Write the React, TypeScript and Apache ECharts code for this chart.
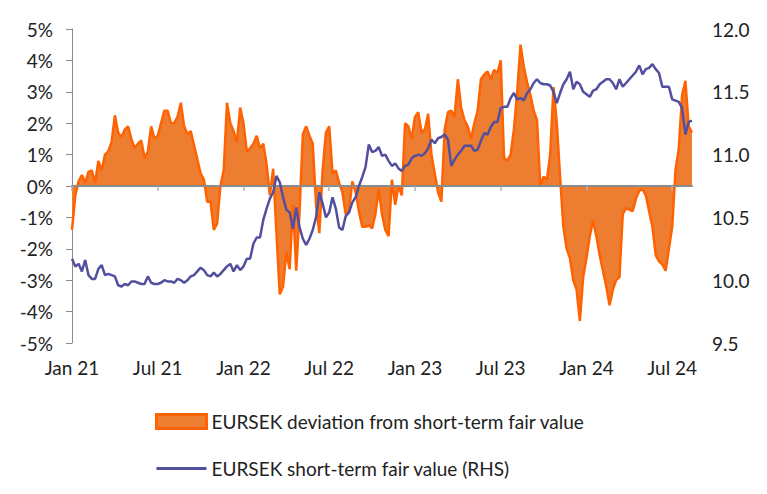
import * as echarts from "echarts";
import { useEffect, useRef } from "react";

const deviationName = "EURSEK deviation from short-term fair value";
const fairValueName = "EURSEK short-term fair value (RHS)";

const tickLabels = ["Jan 21", "Jul 21", "Jan 22", "Jul 22", "Jan 23", "Jul 23", "Jan 24", "Jul 24"];

// weekly, from the first week of 2021
const deviation = [
	-1.4, -0.3, 0.15, 0.35, 0.1, 0.45, 0.5, 0.1, 0.8, 0.5,
	1.0, 1.1, 1.4, 2.25, 1.7, 1.55, 1.8, 1.9, 1.5, 1.2,
	1.35, 1.45, 0.9, 1.1, 1.9, 1.5, 1.6, 2.0, 2.4, 2.4,
	2.0, 2.0, 2.2, 2.65, 1.9, 1.65, 1.75, 1.3, 0.85, 0.4,
	0.2, -0.5, -0.5, -1.4, -1.2, 0.0, 0.5, 2.65, 2.0, 1.75,
	1.4, 2.5, 2.0, 1.1, 1.2, 1.35, 1.6, 1.2, 1.35, 0.7,
	-0.3, 0.55, -1.5, -3.45, -3.2, -2.1, -2.65, -0.6, -2.7, -0.8,
	1.65, 1.9, 1.6, 1.35, -0.6, -1.5, 0.5, 1.7, 1.9, 0.4,
	0.5, 0.1, -0.2, -0.9, -0.8, 0.15, -0.2, -0.8, -1.3, -1.3,
	-1.25, -1.35, -0.9, -0.1, -0.9, -1.4, -1.6, 0.2, -0.6, 0.0,
	-0.3, 2.0, 1.9, 1.5, 2.2, 2.35, 1.7, 1.8, 2.3, 1.0,
	0.4, -0.2, -0.5, 1.8, 2.35, 2.4, 2.2, 3.4, 2.5, 2.1,
	1.9, 1.5, 2.0, 2.4, 3.4, 3.55, 3.65, 3.4, 3.7, 3.6,
	4.0, 0.9, 0.8, 1.0, 1.8, 3.0, 4.5, 3.8, 3.3, 2.9,
	2.4, 2.1, 0.0, 0.3, 0.2, 1.0, 3.15, 2.0, 0.3, -1.3,
	-2.0, -2.3, -3.0, -3.3, -4.3, -2.9, -2.3, -1.6, -1.1, -1.6,
	-2.2, -2.7, -3.2, -3.8, -3.3, -3.0, -2.9, -0.9, -0.7, -0.75,
	-0.8, -0.4, -0.15, -0.1, -0.3, -0.8, -1.3, -2.2, -2.4, -2.5,
	-2.7, -2.0, -1.3, 0.5, 1.2, 2.9, 3.35, 1.9, 1.7,
];

const fairValue = [
	10.17, 10.11, 10.13, 10.07, 10.16, 10.04, 10.01, 10.01, 10.09, 10.12,
	10.04, 10.05, 10.04, 10.03, 9.96, 9.95, 9.97, 9.96, 9.99, 9.99,
	9.98, 9.97, 9.97, 10.03, 9.98, 9.97, 9.97, 9.98, 10.0, 9.99,
	9.99, 9.98, 10.01, 10.0, 9.98, 10.0, 10.03, 10.04, 10.07, 10.1,
	10.08, 10.04, 10.03, 10.06, 10.03, 10.05, 10.08, 10.11, 10.13, 10.07,
	10.12, 10.08, 10.11, 10.17, 10.17, 10.29, 10.34, 10.34, 10.48, 10.57,
	10.65, 10.7, 10.83, 10.78, 10.66, 10.56, 10.54, 10.41, 10.58, 10.42,
	10.33, 10.28, 10.33, 10.4, 10.5, 10.7, 10.61, 10.5, 10.54, 10.66,
	10.57, 10.42, 10.4, 10.51, 10.54, 10.62, 10.66, 10.75, 10.82, 10.9,
	11.08, 11.02, 11.03, 11.06, 10.99, 11.0, 10.95, 10.91, 10.93, 10.89,
	10.87, 10.91, 10.92, 10.97, 10.99, 11.0, 10.99, 11.01, 11.05, 11.12,
	11.09, 11.13, 11.14, 11.16, 11.12, 10.91, 10.96, 11.0, 11.03, 11.07,
	11.07, 11.07, 11.03, 11.04, 11.11, 11.17, 11.16, 11.22, 11.26, 11.26,
	11.37, 11.38, 11.38, 11.45, 11.49, 11.44, 11.45, 11.43, 11.49, 11.52,
	11.57, 11.6, 11.57, 11.56, 11.56, 11.55, 11.5, 11.41, 11.49, 11.56,
	11.6, 11.66, 11.52, 11.58, 11.56, 11.5, 11.48, 11.46, 11.51, 11.52,
	11.56, 11.58, 11.6, 11.6, 11.57, 11.52, 11.6, 11.54, 11.57, 11.6,
	11.63, 11.66, 11.71, 11.64, 11.68, 11.69, 11.72, 11.68, 11.65, 11.54,
	11.54, 11.54, 11.44, 11.43, 11.42, 11.37, 11.16, 11.26, 11.27,
];

const weeks: string[] = [];
for (let i = 0; i < deviation.length; i++) {
	const d = new Date(Date.UTC(2021, 0, 1 + i * 7));
	weeks.push(d.toISOString().slice(0, 10));
}

const font = "Lato, 'Noto Sans', sans-serif";
const fontSize = 19;
const textColor = "#222222";
const axisGray = "#8c8c8c";
const halfYear = (i: number) => i % 26 === 0;

export default function App() {
	const ref = useRef<HTMLDivElement>(null);
	useEffect(() => {
		if (!ref.current) return;
		const chart = echarts.init(ref.current, null, { renderer: "svg" });
		chart.setOption({
			animation: false,
			backgroundColor: "#ffffff",
			textStyle: { fontFamily: font },
			grid: { left: 72, right: 75, top: 29, bottom: 151, containLabel: false },
			legend: {
				orient: "vertical",
				left: 155,
				top: 412,
				padding: 0,
				itemWidth: 50,
				itemHeight: 14,
				itemGap: 28,
				textStyle: { fontSize: fontSize, color: textColor, fontFamily: font },
				data: [
					{
						name: deviationName,
						icon: "rect",
						itemStyle: { color: "#ED7D31", borderColor: "#FF6200", borderWidth: 3 },
					},
					{
						name: fairValueName,
						icon: "path://M0,0H50V3H0Z",
						itemStyle: { color: "#524F9F", borderWidth: 0 },
					},
				],
			},
			xAxis: [
				{
					type: "category",
					data: weeks,
					boundaryGap: false,
					position: "bottom",
					axisLine: { show: false, onZero: false },
					axisTick: { show: false },
					axisLabel: {
						interval: halfYear,
						margin: 15,
						fontSize: fontSize,
						color: textColor,
						fontFamily: font,
						formatter: (_v: string, i: number) => tickLabels[i / 26] ?? "",
					},
				},
				{
					type: "category",
					data: weeks,
					boundaryGap: false,
					position: "bottom",
					z: 3,
					axisLine: { show: true, onZero: true, onZeroAxisIndex: 0, lineStyle: { color: axisGray, width: 2 } },
					axisTick: { show: true, interval: halfYear, length: 5, lineStyle: { color: "#b0b0b0", width: 1.5 } },
					axisLabel: { show: false },
				},
			],
			yAxis: [
				{
					type: "value",
					min: -5,
					max: 5,
					interval: 1,
					position: "left",
					splitLine: { show: false },
					axisLine: { show: true, lineStyle: { color: axisGray, width: 1 } },
					axisTick: { show: true, length: 6, lineStyle: { color: axisGray } },
					axisLabel: {
						margin: 19,
						fontSize: fontSize,
						color: textColor,
						fontFamily: font,
						formatter: "{value}%",
					},
				},
				{
					type: "value",
					min: 9.5,
					max: 12,
					interval: 0.5,
					position: "right",
					splitLine: { show: false },
					axisLine: { show: false },
					axisTick: { show: false },
					axisLabel: {
						margin: 20,
						fontSize: fontSize,
						color: textColor,
						fontFamily: font,
						formatter: (v: number) => v.toFixed(1),
					},
				},
			],
			series: [
				{
					name: deviationName,
					type: "line",
					xAxisIndex: 0,
					yAxisIndex: 0,
					data: deviation,
					symbol: "none",
					z: 2,
					itemStyle: { color: "#FF6200" },
					lineStyle: { color: "#FF6200", width: 2.5 },
					areaStyle: { color: "#ED7D31", opacity: 1 },
				},
				{
					name: fairValueName,
					type: "line",
					xAxisIndex: 0,
					yAxisIndex: 1,
					data: fairValue,
					symbol: "none",
					z: 4,
					itemStyle: { color: "#524F9F" },
					lineStyle: { color: "#524F9F", width: 2.5 },
				},
			],
		});
		return () => chart.dispose();
	}, []);
	return (
		<div
			ref={ref}
			style={{ position: "fixed", left: 0, top: 0, width: 767, height: 494, background: "#fff" }}
		/>
	);
}
